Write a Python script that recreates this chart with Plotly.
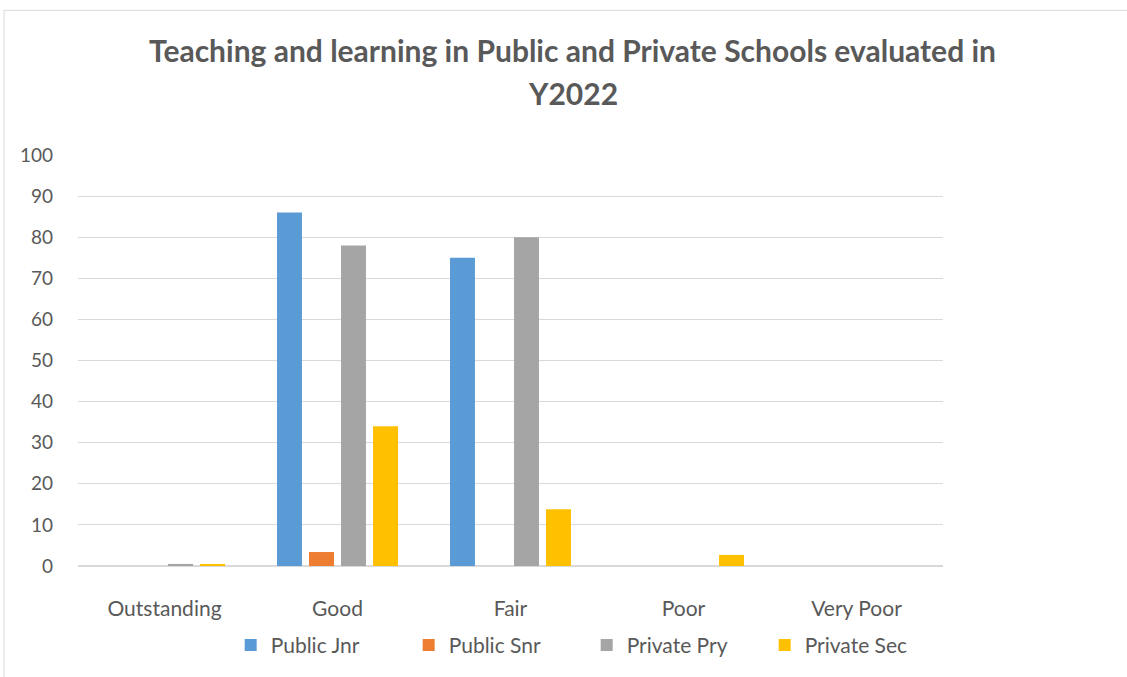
import plotly.graph_objects as go

categories = ["Outstanding", "Good", "Fair", "Poor", "Very Poor"]
public_jnr = [0, 86, 75, 0, 0]
public_snr = [0, 3.4, 0, 0, 0]
private_pry = [0.5, 78, 80, 0, 0]
private_sec = [0.5, 34, 13.8, 2.7, 0]

series = [
    ("Public Jnr", public_jnr, "#5B9BD5"),
    ("Public Snr", public_snr, "#ED7D31"),
    ("Private Pry", private_pry, "#A5A5A5"),
    ("Private Sec", private_sec, "#FFC000"),
]

title_lines = ["Teaching and learning in Public and Private Schools evaluated in", "Y2022"]

FONT = "Lato, Open Sans, sans-serif"
TEXT = "#595959"

fig = go.Figure()
for name, vals, color in series:
    fig.add_trace(go.Bar(x=categories, y=vals, name=name,
                         marker=dict(color=color, line=dict(width=0))))

# plot area: 865 x 412 px, left edge at 78, bottom at 567
title_ann = [
    dict(text=f"<b>{line}</b>", xref="paper", yref="paper", x=0.572, y=yy,
         xanchor="center", yanchor="middle", showarrow=False,
         font=dict(family=FONT, size=30, color=TEXT))
    for line, yy in zip(title_lines, [1.2549, 1.1505])
]

fig.update_layout(
    width=1127, height=677,
    paper_bgcolor="white", plot_bgcolor="white",
    margin=dict(l=78, r=184, t=155, b=110, pad=0),
    barmode="group", bargap=0.26, bargroupgap=0.22,
    font=dict(family=FONT, color=TEXT, size=19),
    annotations=title_ann,
    xaxis=dict(showgrid=False, showline=False, ticks="",
               tickfont=dict(size=21, color=TEXT), ticklabelstandoff=28),
    yaxis=dict(range=[0, 100], dtick=10, showgrid=True, gridcolor="#D9D9D9",
               gridwidth=1, zeroline=True, zerolinecolor="#D9D9D9", zerolinewidth=2,
               showline=False, ticks="", tickfont=dict(size=19, color=TEXT),
               ticklabelstandoff=24),
    legend=dict(orientation="h", x=0.1765, xanchor="left", y=-0.19, yanchor="middle",
                font=dict(size=21, color=TEXT), entrywidth=133, entrywidthmode="pixels",
                itemsizing="constant", bgcolor="rgba(0,0,0,0)"),
    shapes=[dict(type="rect", xref="paper", yref="paper",
                 x0=-0.0855, x1=1.3, y0=-0.4, y1=1.352,
                 line=dict(color="#D9D9D9", width=1))],
)

fig.write_html("out.html")
